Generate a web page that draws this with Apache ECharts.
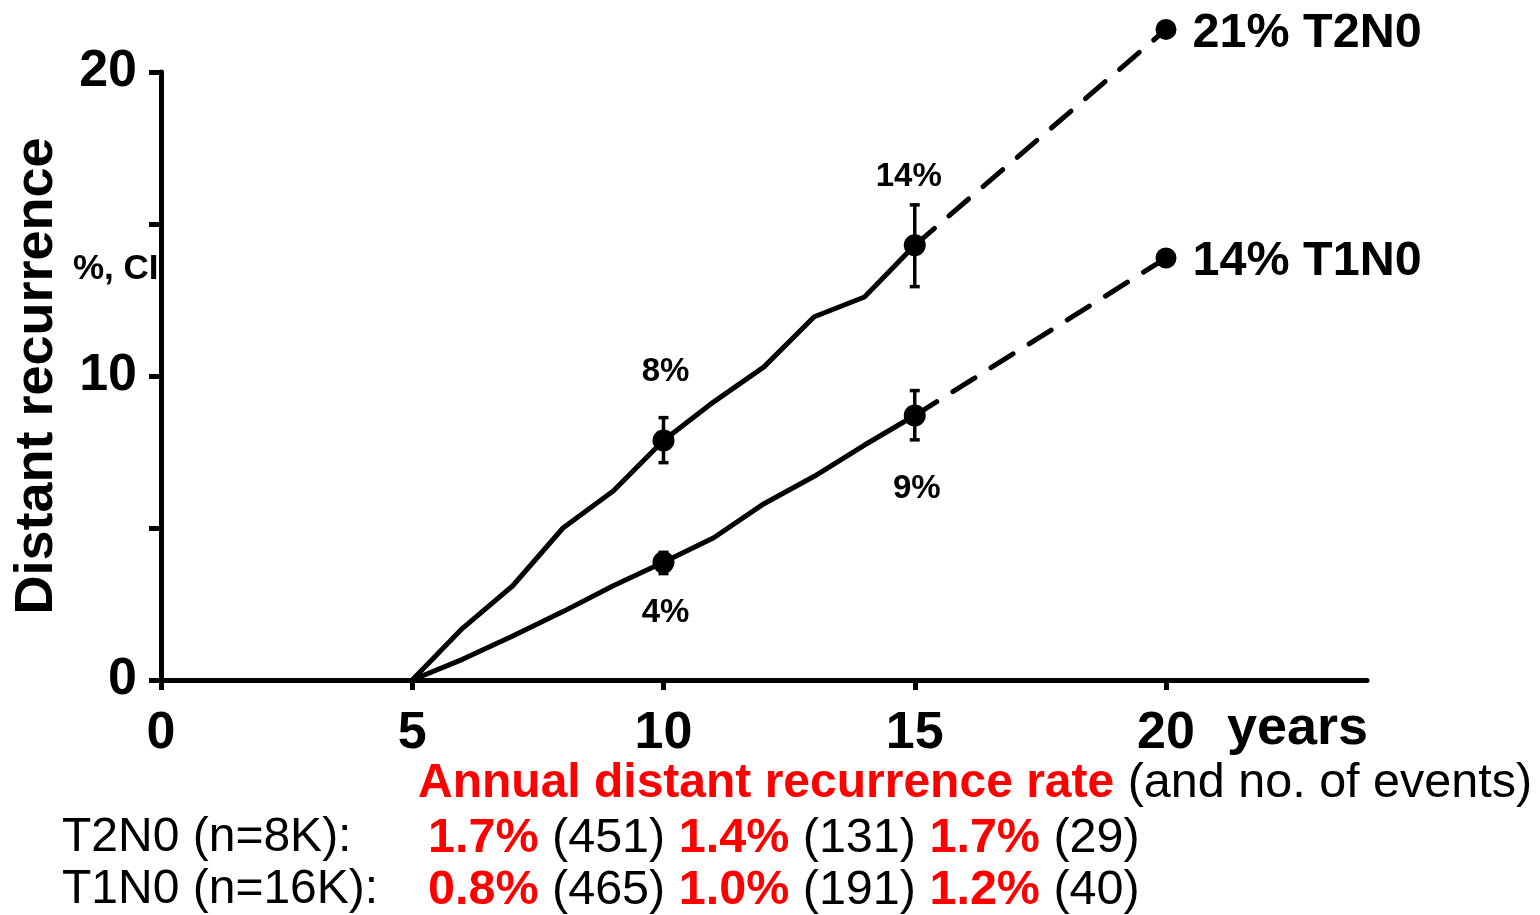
<!DOCTYPE html>
<html>
<head>
<meta charset="utf-8">
<script src="https://cdn.jsdelivr.net/npm/echarts@6/dist/echarts.min.js"></script>
<style>
  html, body { margin: 0; padding: 0; background: #fff; }
  #chart { width: 1540px; height: 915px; }
</style>
</head>
<body>
<div id="chart"></div>
<script>
  // observed years 5..15
  const years = [5, 6, 7, 8, 9, 10, 11, 12, 13, 14, 15];
  const t2n0 = [0, 1.7, 3.1, 5.0, 6.22, 7.88, 9.15, 10.3, 11.95, 12.6, 14.3];
  const t1n0 = [0, 0.68, 1.45, 2.25, 3.1, 3.87, 4.68, 5.8, 6.7, 7.73, 8.7];

  // dashed projection to 20 years
  const t2n0Proj = [[15, 14.3], [20, 21.4]];
  const t1n0Proj = [[15, 8.7], [20, 13.88]];

  // confidence intervals [year, low, high]
  const t2n0Ci = [[10, 7.15, 8.63], [15, 12.94, 15.63]];
  const t1n0Ci = [[10, 3.5, 4.2], [15, 7.9, 9.52]];

  // point labels
  const t2n0Labels = ['8%', '14%'];
  const t1n0Labels = ['4%', '9%'];
  const endLabels = ['21% T2N0', '14% T1N0'];

  // ticks
  const xTicks = [0, 5, 10, 15, 20];
  const yTicks = [0, 5, 10, 15, 20];
  const yLabels = [0, 10, 20];

  // bottom table
  const rowNames = ['T2N0 (n=8K):', 'T1N0 (n=16K):'];
  const rowRates = [['1.7%', '1.4%', '1.7%'], ['0.8%', '1.0%', '1.2%']];
  const rowEvents = [['451', '131', '29'], ['465', '191', '40']];

  const FONT = '"Liberation Sans", Arial, sans-serif';

  const chart = echarts.init(document.getElementById('chart'));

  function pick(arr, xs) {
    return xs.map(x => [x, arr[years.indexOf(x)]]);
  }

  function errorBar(params, api) {
    const x = api.value(0);
    const lo = api.coord([x, api.value(1)]);
    const hi = api.coord([x, api.value(2)]);
    const cap = 5;
    const st = { stroke: '#000', lineWidth: 3.5 };
    return {
      type: 'group',
      children: [
        { type: 'line', shape: { x1: lo[0], y1: lo[1], x2: hi[0], y2: hi[1] }, style: st },
        { type: 'line', shape: { x1: lo[0] - cap, y1: lo[1], x2: lo[0] + cap, y2: lo[1] }, style: st },
        { type: 'line', shape: { x1: hi[0] - cap, y1: hi[1], x2: hi[0] + cap, y2: hi[1] }, style: st }
      ]
    };
  }

  const markT2 = pick(t2n0, [10, 15]).map((d, i) => ({
    value: d,
    label: { show: true, formatter: t2n0Labels[i], position: 'top', distance: 41, offset: [i === 1 ? -6 : 2, 0] }
  }));
  const markT1 = pick(t1n0, [10, 15]).map((d, i) => ({
    value: d,
    label: { show: true, formatter: t1n0Labels[i], position: 'bottom', distance: i === 0 ? 23 : 46, offset: [2, 0] }
  }));
  const endMarks = [t2n0Proj[1], t1n0Proj[1]].map((d, i) => ({
    value: d,
    label: { show: true, formatter: endLabels[i], position: 'right', distance: 16, fontSize: 48.5, offset: [0, 4] }
  }));

  const rich = {
    r: { fill: '#ff0000', fontWeight: 'bold', fontSize: 48.5, fontFamily: FONT },
    k: { fill: '#000', fontSize: 48.5, fontFamily: FONT }
  };
  const richHead = {
    r: { fill: '#ff0000', fontWeight: 'bold', fontSize: 48, fontFamily: FONT },
    k: { fill: '#000', fontSize: 48.5, fontFamily: FONT }
  };

  const rowText = rowRates.map((rates, i) =>
    rates.map((r, j) => '{r|' + r + '}{k| (' + rowEvents[i][j] + ') }').join('')
  );

  const option = {
    backgroundColor: '#fff',
    animation: false,
    textStyle: { fontFamily: FONT },
    grid: { left: 161, right: 173, top: 72, bottom: 235 },
    xAxis: {
      type: 'value',
      min: 0,
      max: 24,
      interval: 5,
      splitLine: { show: false },
      axisLine: { lineStyle: { color: '#000', width: 5 } },
      axisTick: { length: 10, lineStyle: { color: '#000', width: 5 }, customValues: xTicks },
      axisLabel: {
        customValues: xTicks, margin: 28,
        color: '#000', fontSize: 52, fontWeight: 'bold', fontFamily: FONT
      }
    },
    yAxis: {
      type: 'value',
      min: 0,
      max: 20,
      interval: 5,
      name: 'Distant recurrence',
      nameLocation: 'middle',
      nameRotate: 90,
      nameGap: 97,
      nameTextStyle: { color: '#000', fontSize: 54, fontWeight: 'bold', fontFamily: FONT },
      splitLine: { show: false },
      axisLine: { lineStyle: { color: '#000', width: 5 } },
      axisTick: { length: 12, lineStyle: { color: '#000', width: 5 }, customValues: yTicks },
      axisLabel: {
        customValues: yLabels, margin: 24,
        color: '#000', fontSize: 52, fontWeight: 'bold', fontFamily: FONT
      }
    },
    graphic: [
      { type: 'text', left: 73, top: 252, style: { text: '%, CI', fontSize: 35, fontWeight: 'bold', fill: '#000', fontFamily: FONT } },
      { type: 'text', left: 1227, top: 702, style: { text: 'years', fontSize: 54, fontWeight: 'bold', fill: '#000', fontFamily: FONT } },
      {
        type: 'text', left: 418, top: 759,
        style: {
          text: '{r|Annual distant recurrence rate}{k| (and no. of events)}',
          rich: richHead
        }
      },
      { type: 'text', left: 62, top: 814, style: { text: rowNames[0], fontSize: 48, fill: '#000', fontFamily: FONT } },
      { type: 'text', left: 62, top: 866, style: { text: rowNames[1], fontSize: 48, fill: '#000', fontFamily: FONT } },
      { type: 'text', left: 428, top: 814, style: { text: rowText[0], rich: rich } },
      { type: 'text', left: 428, top: 866, style: { text: rowText[1], rich: rich } }
    ],
    series: [
      {
        name: 'T2N0', type: 'line', data: years.map((x, i) => [x, t2n0[i]]),
        showSymbol: false, lineStyle: { color: '#000', width: 5 }
      },
      {
        name: 'T1N0', type: 'line', data: years.map((x, i) => [x, t1n0[i]]),
        showSymbol: false, lineStyle: { color: '#000', width: 5 }
      },
      {
        name: 'T2N0 proj', type: 'line', data: t2n0Proj, clip: false,
        showSymbol: false, lineStyle: { color: '#000', width: 5, type: [26, 19], cap: 'round' }
      },
      {
        name: 'T1N0 proj', type: 'line', data: t1n0Proj, clip: false,
        showSymbol: false, lineStyle: { color: '#000', width: 5, type: [26, 19], cap: 'round' }
      },
      {
        name: 'CI', type: 'custom', renderItem: errorBar, clip: false,
        encode: { x: 0, y: [1, 2] },
        data: t2n0Ci.concat(t1n0Ci), z: 3
      },
      {
        name: 'marks', type: 'scatter', symbol: 'circle', symbolSize: 22, clip: false,
        itemStyle: { color: '#000', opacity: 1 }, z: 4,
        label: { color: '#000', fontSize: 33, fontWeight: 'bold', fontFamily: FONT },
        data: markT2.concat(markT1)
      },
      {
        name: 'ends', type: 'scatter', symbol: 'circle', symbolSize: 21, clip: false,
        itemStyle: { color: '#000', opacity: 1 }, z: 4,
        label: { color: '#000', fontWeight: 'bold', fontFamily: FONT },
        data: endMarks
      }
    ]
  };

  chart.setOption(option);
</script>
</body>
</html>
